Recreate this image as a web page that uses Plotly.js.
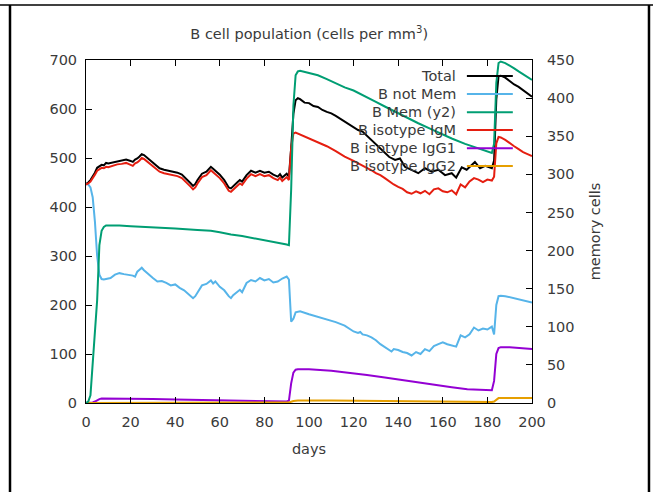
<!DOCTYPE html>
<html>
<head>
<meta charset="utf-8">
<script src="https://cdn.plot.ly/plotly-3.0.1.min.js"></script>
<style>html,body{margin:0;padding:0;background:#fff;}#chart{width:653px;height:492px;}</style>
</head>
<body>
<div id="chart"></div>
<script>
// ---- data ----
const totalDays = [0,1,2,3,4,5,6,7,8,9,10,12,14,16,18,20,21,22,23,24,25,26,27,28,30,31,33,35,37,39,41,43,45,47,48,49,50,52,54,56,57,58,60,62,63,64,65,66,67,68,69,70,72,74,76,78,80,82,84,86,87,88,90,91,92,93,94,95,96,98,100,102,104,106,108,110,112,114,116,118,120,122,124,126,128,130,132,134,136,138.6,140.8,143,146,149,152,155,158,161,164,166,168.5,170.7,174.4,176.7,179,182,183,184,185,186,188,190,192,194,196,198,200];
const totalVals = [447,450,455,462,470,480,484,486,485,490,489,491,494,496,497,494,492,497,499,503,508,506,502,499,492,486,479,476,474,472,470,466,458,448,443,447,455,468,472,482,478,474,466,455,447,440,438,443,447,451,455,452,465,474,470,474,470,472,466,462,467,460,468,462,520,590,618,622,620,613,612,606,604,598,594,591,586,580,574,568,562,557,554,545,537,527,518,510,502,496,499,482,476,469,479,472,476,465,469,460,481,476,492,479,484,479,495,620,667,668,664,657,650,645,638,632,625];

const notMemDays = [0,1,2,3,4,5,6,7,8,10,11,13,15,17,19,21,22,23,24,25,26,28,30,32,34,36,38,40,42,44,46,48,49,50,52,54,56,57,58,60,62,64,65,66,68,69,70,72,74,76,78,80,82,84,86,88,90,91,92,93,94,96,100,104,108,112,116,118,120,122,123,124,126,128,130,132,134,136,137,138,140,142,144,146,148,150,152,154,156,158,160,162,164,166,168,170,172,174,176,178,180,182,183,184,185,186,188,190,192,194,196,198,200];
const notMemVals = [447,446,440,420,370,300,262,253,252,253,255,262,265,263,262,260,258,268,272,276,271,262,255,248,249,245,240,242,235,230,222,214,218,225,240,243,250,244,248,237,230,218,214,220,228,231,226,245,251,248,255,250,253,246,248,254,258,252,166,172,185,187,181,176,171,165,158,152,146,143,145,140,138,134,128,120,114,108,105,110,108,104,102,97,104,100,110,106,116,120,124,120,118,115,138,134,140,154,148,152,150,156,140,200,218,219,218,216,214,212,210,207,205];

const memDays = [0,1,2,3,4,5,6,7,8,9,10,15,20,30,40,50,56,60,65,70,74,78,82,86,90,91,92,93,94,95,96,100,104,108,112,116,120,125,130,134,140,145,149,155,160,164,170,175,180,182,183,184,185,186,188,190,192,194,196,198,200];
const memVals = [0,2,10,50,92,135,207,226,231,233,233,233,232,231,229,227,226,224,221,219,217,215,213,211,208,207,280,390,430,435,436,433,430,425,419,414,410,403,395,389,380,373,367,359,352,347,340,335,330,328,340,420,446,448,446,443,439,435,431,428,424];

const igmDays = [0,1,2,3,4,5,6,7,8,9,10,12,14,16,18,20,21,22,23,24,25,26,27,28,30,31,33,35,37,39,41,43,45,47,48,49,50,52,54,56,57,58,60,62,63,64,65,66,67,68,69,70,72,74,76,78,80,82,84,86,87,88,90,91,92,93,94,96,98,100,104,108,112,116,120,124,126,128,130,132,134,136,138,140,142,144,146,148,150,152,154,156,158,160,162,164,166,168,170,172,174,176,178,180,182,183,184,185,186,188,190,192,194,196,198,200];
const igmVals = [446,448,452,458,466,474,478,480,479,482,481,484,487,488,490,486,484,489,491,495,500,498,494,490,484,478,472,469,467,465,463,459,451,441,436,440,448,461,465,475,471,467,459,448,440,433,431,436,440,444,448,445,458,467,463,467,463,465,459,455,460,453,461,455,520,550,552,548,545,541,533,524,514,503,494,485,479,475,469,465,459,452,446,441,437,430,427,432,428,433,426,436,438,432,430,434,426,446,440,452,459,456,451,456,454,462,530,543,542,537,530,524,518,512,508,504];

const igg1Days = [0,2,3,4,5,6,7,10,20,30,40,50,60,70,80,90,91,92,93,94,95,100,110,120,126,134,141,148,156,164,171,176,182,183,184,185,186,190,195,200];
const igg1Vals = [0,0,1,3,6,8,9,9,9,8,7,6,5,4,4,3,5,40,62,68,69,69,66,61,57,52,47,42,37,32,28,27,26,45,100,112,114,114,112,110];

const igg2Days = [0,90,91,93,95,110,130,150,170,182,183,184,185,200];
const igg2Vals = [0,0,1,4,5,5,4,3,2,2,3,7,10,10];

const seriesNames = ['Total','B not Mem','B Mem (y2)','B isotype IgM','B isotype IgG1','B isotype IgG2'];
const seriesColors = ['#000000','#56B4E9','#009E73','#E51E10','#9400D3','#E69F00'];
const xTicks = [0,20,40,60,80,100,120,140,160,180,200];
const yTicks = [0,100,200,300,400,500,600,700];
const y2Ticks = [0,50,100,150,200,250,300,350,400,450];

const F = 'DejaVu Sans, sans-serif';
const TXT = '#3a3a3a';

const xs = [totalDays, notMemDays, memDays, igmDays, igg1Days, igg2Days];
const ys = [totalVals, notMemVals, memVals, igmVals, igg1Vals, igg2Vals];
const traces = xs.map((x, i) => ({
  x: x, y: ys[i], type: 'scatter', mode: 'lines', name: seriesNames[i],
  yaxis: i === 2 ? 'y2' : 'y',
  line: {color: seriesColors[i], width: 2},
  showlegend: false, hoverinfo: 'skip'
}));

// manual legend (text right-aligned, sample line to the right)
const legY = [0.953, 0.901, 0.848, 0.796, 0.743, 0.691];
const annotations = seriesNames.map((n, i) => ({
  xref: 'paper', yref: 'paper', x: 0.834, y: legY[i], xanchor: 'right', yanchor: 'middle',
  text: n, showarrow: false, font: {family: F, size: 14.5, color: TXT}
}));
const shapes = seriesNames.map((n, i) => ({
  type: 'line', xref: 'paper', yref: 'paper', x0: 0.854, x1: 0.957, y0: legY[i], y1: legY[i],
  line: {color: seriesColors[i], width: 2}, layer: 'above'
}));
// page frame lines
shapes.push({type:'line', xref:'paper', yref:'paper', x0:-0.1928, x1:1.2713, y0:1.1603, y1:1.1603, line:{color:'#000', width:1.5}});
shapes.push({type:'line', xref:'paper', yref:'paper', x0:-0.1704, x1:-0.1704, y0:1.1603, y1:-0.27, line:{color:'#000', width:2.5}});
shapes.push({type:'line', xref:'paper', yref:'paper', x0:1.2623, x1:1.2623, y0:1.1603, y1:-0.27, line:{color:'#000', width:2.5}});

const layout = {
  width: 653, height: 492,
  margin: {l: 86, r: 121, t: 60, b: 89, pad: 0},
  paper_bgcolor: '#fff', plot_bgcolor: '#fff',
  font: {family: F, size: 14.5, color: TXT},
  title: {text: 'B cell population (cells per mm<sup>3</sup>)', font: {family: F, size: 14.5, color: TXT}, x: 0.4735, xanchor: 'center', y: 0.931, yanchor: 'middle'},
  xaxis: {range: [0, 200], tickvals: xTicks, ticktext: xTicks.map(String), ticks: 'inside', ticklen: 6, tickcolor: '#000',
          ticklabelstandoff: 6,
          showline: true, linecolor: '#000', linewidth: 1, mirror: 'ticks', showgrid: false, zeroline: false,
          title: {text: 'days', font: {family: F, size: 14.5, color: TXT}, standoff: 14}},
  yaxis: {range: [0, 700], tickvals: yTicks, ticktext: yTicks.map(String), ticks: 'inside', ticklen: 6, tickcolor: '#000',
          ticklabelstandoff: 5,
          showline: true, linecolor: '#000', linewidth: 1, mirror: false, showgrid: false, zeroline: false},
  yaxis2: {range: [0, 450], tickvals: y2Ticks, ticktext: y2Ticks.map(String), ticks: 'inside', ticklen: 6, tickcolor: '#000',
           ticklabelstandoff: 11,
           overlaying: 'y', side: 'right', showline: true, linecolor: '#000', linewidth: 1, showgrid: false, zeroline: false,
           title: {text: 'memory cells', font: {family: F, size: 14.5, color: TXT}, standoff: 16}},
  annotations: annotations,
  shapes: shapes,
  showlegend: false
};

Plotly.newPlot('chart', traces, layout, {staticPlot: true, displayModeBar: false});
</script>
</body>
</html>
